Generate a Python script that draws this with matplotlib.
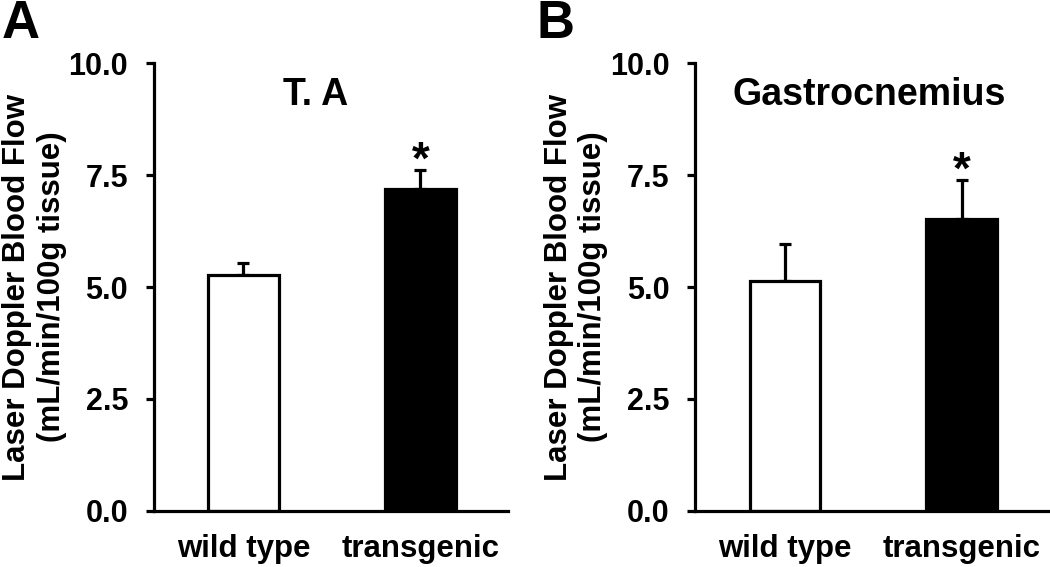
import matplotlib
matplotlib.use("Agg")
import matplotlib.pyplot as plt
from matplotlib.ticker import FormatStrFormatter

plt.rcParams["font.family"] = ["Liberation Sans", "DejaVu Sans"]
plt.rcParams["font.weight"] = "bold"

# ---- data ----
groups = ["wild type", "transgenic"]
ta_mean = [5.27, 7.18]
ta_sem = [0.27, 0.43]
gas_mean = [5.14, 6.51]
gas_sem = [0.83, 0.89]
panel_titles = ["T. A", "Gastrocnemius"]
panel_letters = ["A", "B"]
y_ticks = [0.0, 2.5, 5.0, 7.5, 10.0]
bar_colors = ["white", "black"]
ylabel = "Laser Doppler Blood Flow\n(mL/min/100g tissue)"

LW = 2.3
fig = plt.figure(figsize=(10.5, 5.67), dpi=100)

axes_lefts = [0.1462, 0.6619]
title_x = [0.458, 0.4915]
letter_x = [0.0015, 0.511]

for i, (means, sems) in enumerate([(ta_mean, ta_sem), (gas_mean, gas_sem)]):
    ax = fig.add_axes([axes_lefts[i], 0.0993, 0.3376, 0.789])
    x = list(range(len(groups)))
    ax.bar(x, means, width=0.40, color=bar_colors, edgecolor="black",
           linewidth=LW, zorder=2)
    ax.errorbar(x, means, yerr=[[0] * len(sems), sems], fmt="none",
                ecolor="black", elinewidth=LW, capsize=4.5, capthick=LW,
                zorder=1)
    # significance star above the transgenic bar
    ax.text(x[1], means[1] + sems[1] - 0.08, "*", ha="center", va="baseline",
            fontsize=33, fontweight="bold")

    ax.set_xlim(-0.508, 1.495)
    ax.set_ylim(0, 10)
    ax.set_yticks(y_ticks)
    ax.yaxis.set_major_formatter(FormatStrFormatter("%.1f"))
    ax.set_xticks(x)
    ax.set_xticklabels(groups)
    ax.tick_params(axis="y", direction="out", length=5.8, width=LW,
                   labelsize=22, pad=12.5)
    ax.tick_params(axis="x", length=0, labelsize=22.5, pad=17)
    for lab in ax.get_xticklabels() + ax.get_yticklabels():
        lab.set_fontweight("bold")

    for side in ["top", "right"]:
        ax.spines[side].set_visible(False)
    for side in ["left", "bottom"]:
        ax.spines[side].set_linewidth(LW)

    ax.set_ylabel(ylabel, fontsize=22.5, fontweight="bold", linespacing=1.2)
    ax.yaxis.set_label_coords(-0.245, 0.5)

    ax.text(title_x[i], 0.907, panel_titles[i], transform=ax.transAxes,
            ha="center", va="baseline", fontsize=27, fontweight="bold")

    fig.text(letter_x[i], 1 - 38.5 / 567, panel_letters[i], ha="left",
             va="baseline", fontsize=38, fontweight="bold")

fig.savefig("out.png", dpi=100)
